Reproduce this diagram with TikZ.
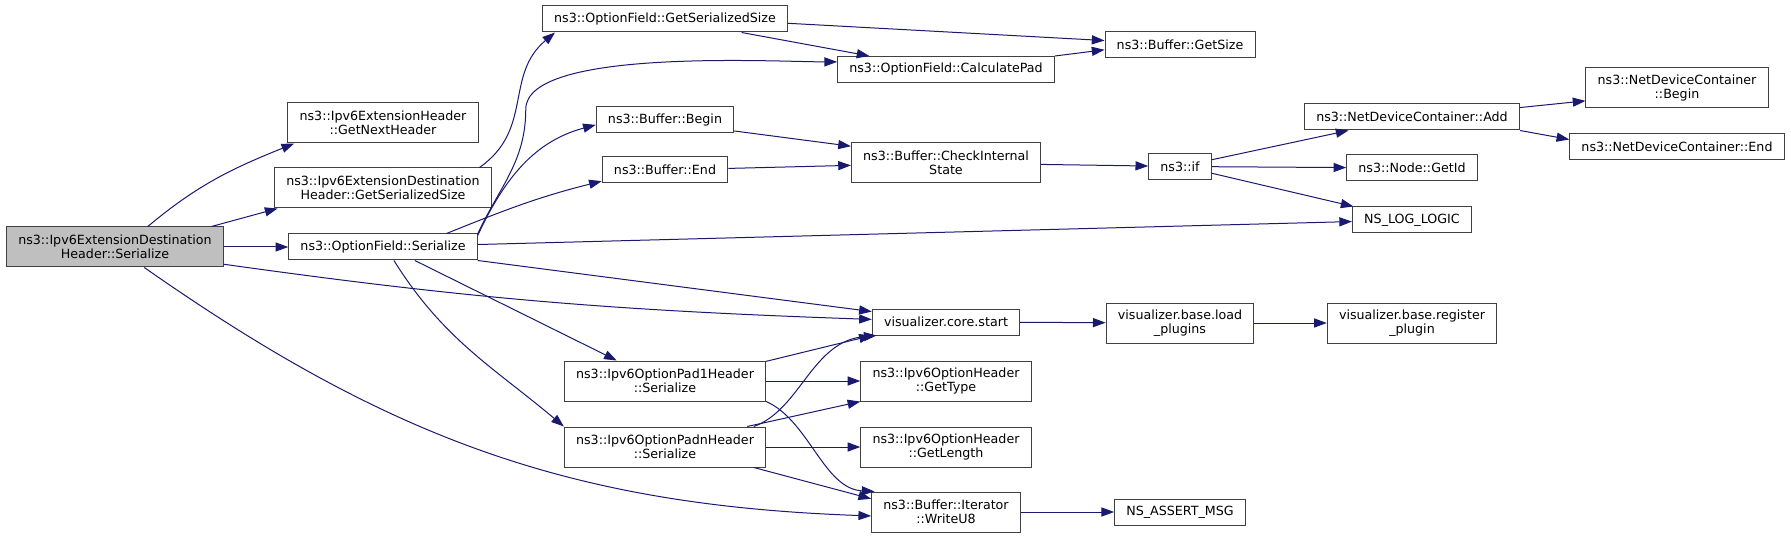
\documentclass[tikz,border=0pt]{standalone}
\usepackage{fontspec}
\setmainfont{DejaVu Sans}
\usepackage{tikz}
\usetikzlibrary{arrows.meta, positioning}
\definecolor{edgeblue}{HTML}{191970}
\definecolor{boxline}{HTML}{404040}
\definecolor{mainfill}{HTML}{BFBFBF}
\tikzset{
  func/.style={rectangle, draw=boxline, fill=white, line width=0.75pt, align=center, font=\fontsize{9.5}{10.6}\selectfont, inner xsep=8.8pt, inner ysep=3pt, minimum height=19.5pt},
  functwo/.style={func, minimum height=30pt},
  funcmain/.style={functwo, fill=mainfill},
  call/.style={-{Triangle[length=9.5pt, width=6.8pt]}, line width=0.75pt, color=edgeblue},
}
\begin{document}
\begin{tikzpicture}[x=0.75pt, y=0.75pt]
  \fill[white] (0,0) rectangle (1791,-538);
  \node[funcmain] (ser) at (115,-247) {ns3::Ipv6ExtensionDestination\\Header::Serialize};
  \node[functwo] (nexthdr) at (383,-123) {ns3::Ipv6ExtensionHeader\\::GetNextHeader};
  \node[functwo] (gsizeext) at (383,-188) {ns3::Ipv6ExtensionDestination\\Header::GetSerializedSize};
  \node[func] (ofser) at (383,-247) {ns3::OptionField::Serialize};
  \node[func] (ofgss) at (665,-19) {ns3::OptionField::GetSerializedSize};
  \node[func] (bbegin) at (665,-120) {ns3::Buffer::Begin};
  \node[func] (bend) at (665,-170) {ns3::Buffer::End};
  \node[functwo] (pad1) at (665,-381) {ns3::Ipv6OptionPad1Header\\::Serialize};
  \node[functwo] (padn) at (665,-447) {ns3::Ipv6OptionPadnHeader\\::Serialize};
  \node[func] (calcpad) at (946,-69.5) {ns3::OptionField::CalculatePad};
  \node[functwo] (check) at (946,-163) {ns3::Buffer::CheckInternal\\State};
  \node[func] (vstart) at (946,-322) {visualizer.core.start};
  \node[functwo] (gettype) at (946,-381) {ns3::Ipv6OptionHeader\\::GetType};
  \node[functwo] (getlen) at (946,-447) {ns3::Ipv6OptionHeader\\::GetLength};
  \node[functwo] (wu8) at (946,-512) {ns3::Buffer::Iterator\\::WriteU8};
  \node[func] (getsize) at (1180,-44.5) {ns3::Buffer::GetSize};
  \node[func] (nsif) at (1180,-166.5) {ns3::if};
  \node[functwo] (load) at (1180,-323) {visualizer.base.load\\\_plugins};
  \node[func] (nsassert) at (1180,-512) {NS\_ASSERT\_MSG};
  \node[func] (ndcadd) at (1412,-117) {ns3::NetDeviceContainer::Add};
  \node[func] (getid) at (1412,-168) {ns3::Node::GetId};
  \node[func] (loglogic) at (1412,-220) {NS\_LOG\_LOGIC};
  \node[functwo] (register) at (1412,-323) {visualizer.base.register\\\_plugin};
  \node[functwo] (ndcbegin) at (1677,-88) {ns3::NetDeviceContainer\\::Begin};
  \node[func] (ndcend) at (1677,-147) {ns3::NetDeviceContainer::End};
  \draw[call] (ser.32) to[out=40,in=202] (nexthdr.193);
  \draw[call] (ser.12) -- (gsizeext.191);
  \draw[call] (ser) -- (ofser);
  \draw[call] (ser.-9) to[out=-8,in=178] (vstart.178);
  \draw[call] (ser.-35) to[out=-35,in=178] (wu8.183);
  \draw[call] (gsizeext.12) to[out=35,in=220,looseness=1.1] (ofgss.187);
  \draw[call] (ofser.8) to[out=65,in=-90] ++(48,124.5) to[out=90,in=180,looseness=0.5] (calcpad.176);
  \draw[call] (ofser.7) to[out=65,in=195] (bbegin.184);
  \draw[call] (ofser.12) to[out=22,in=194] (bend.190);
  \draw[call] (ofser) -- (loglogic);
  \draw[call] (ofser.south east) -- (vstart.172);
  \draw[call] (ofser.-23) -- (pad1.157);
  \draw[call] (ofser.-51) to[out=-58,in=140] (padn.north west);
  \draw[call] (ofgss.-10) -- (calcpad.170);
  \draw[call] (ofgss.-2) -- (getsize.177);
  \draw[call] (calcpad.north east) -- (getsize.184);
  \draw[call] (bbegin.-9) -- (check.170);
  \draw[call] (bend) -- (check);
  \draw[call] (check) -- (nsif);
  \draw[call] (nsif.12) -- (ndcadd.192);
  \draw[call] (nsif) -- (getid);
  \draw[call] (nsif.-12) -- (loglogic.167);
  \draw[call] (ndcadd.5) -- (ndcbegin.188);
  \draw[call] (ndcadd.south east) -- (ndcend.176);
  \draw[call] (vstart) -- (load);
  \draw[call] (load) -- (register);
  \draw[call] (pad1.11) -- (vstart.south west);
  \draw[call] (pad1) -- (gettype);
  \draw[call] (pad1.south east) .. controls +(-24:47) and +(177:51) .. (wu8.164);
  \draw[call] (padn.13) .. controls +(20:50) and +(185:65) .. (vstart.191);
  \draw[call] (padn.14) -- (gettype.south west);
  \draw[call] (padn) -- (getlen);
  \draw[call] (padn.-13) -- (wu8.170);
  \draw[call] (wu8) -- (nsassert);
\end{tikzpicture}
\end{document}
